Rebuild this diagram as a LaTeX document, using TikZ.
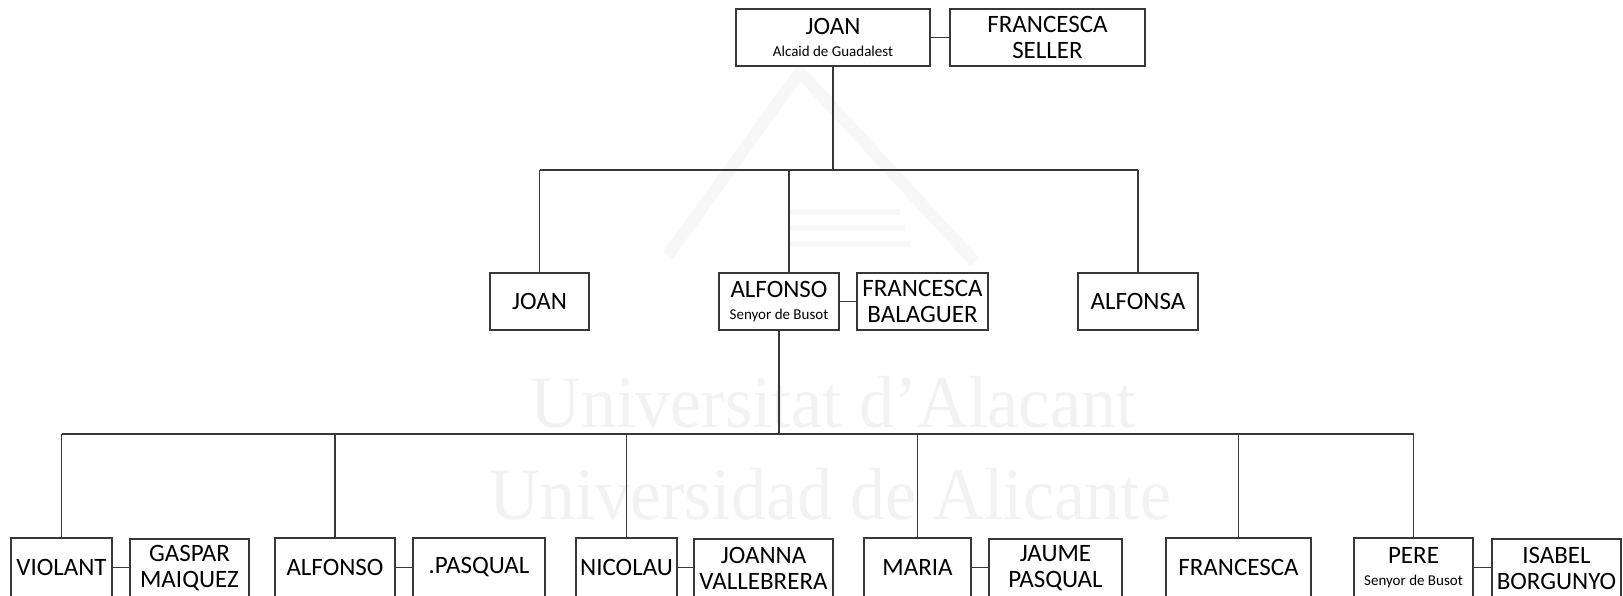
\documentclass[tikz,border=0pt]{standalone}
\usepackage{fontspec}
\setmainfont{Carlito}
\newfontfamily\wmfont{Liberation Serif}
\begin{document}
\begin{tikzpicture}[x=1pt,y=-1pt,
  box/.style={draw=black!78, line width=1.2pt, fill=white, inner sep=0pt, align=center,
    font=\fontsize{25}{26}\selectfont, text=black},
  link/.style={draw=black!78, line width=1.2pt},
  wm/.style={text=black!5, font=\wmfont\fontsize{74}{80}\selectfont, inner sep=0pt, xscale=0.947},
  logo/.style={draw=black!3, line cap=butt}]
\newcommand{\subt}[1]{{\fontsize{15}{17}\selectfont #1}}
\useasboundingbox (0,0) rectangle (1623,595);
\clip (0,0) rectangle (1623,595);
% watermark
\draw[logo, line width=12pt] (668,255) -- (800,72) -- (975,262);
\draw[logo, line width=6pt] (790,212) -- (900,212) (790,228) -- (905,228) (790,244) -- (910,244);
\node[wm, anchor=base] (wm1) at (833,427) {Universitat d’Alacant};
\node[wm, anchor=base] (wm2) at (830.5,519) {Universidad de Alicante};
% row 1
\node[box, minimum width=194pt, minimum height=57pt] (joanA) at (833,37.5) {JOAN\\[-4pt]\subt{Alcaid de Guadalest}};
\node[box, minimum width=195pt, minimum height=57pt] (selle) at (1047.5,37.5) {FRANCESCA\\SELLER};
% row 2
\node[box, minimum width=99pt, minimum height=57pt] (joanB) at (539.5,301.5) {JOAN};
\node[box, minimum width=120pt, minimum height=57pt] (alfonsoA) at (779,301.5) {ALFONSO\\[-4pt]\subt{Senyor de Busot}};
\node[box, minimum width=131pt, minimum height=57pt] (balag) at (922.5,301.5) {FRANCESCA\\BALAGUER};
\node[box, minimum width=120pt, minimum height=57pt] (alfonsa) at (1138,301.5) {ALFONSA};
% row 3
\node[box, minimum width=101pt, minimum height=59pt] (violant) at (61.5,567.5) {VIOLANT};
\node[box, minimum width=119pt, minimum height=59pt] (gaspar) at (189.5,568.5) {GASPAR\\MAIQUEZ};
\node[box, minimum width=120pt, minimum height=59pt] (alfonsoB) at (335,567.5) {ALFONSO};
\node[box, minimum width=132pt, minimum height=59pt] (pasqual) at (479,567.5) {.PASQUAL};
\node[box, minimum width=101pt, minimum height=59pt] (nicolau) at (626.5,567.5) {NICOLAU};
\node[box, minimum width=139pt, minimum height=59pt] (joanna) at (763.5,568.5) {JOANNA\\VALLEBRERA};
\node[box, minimum width=107pt, minimum height=59pt] (maria) at (917.5,567.5) {MARIA};
\node[box, minimum width=133pt, minimum height=59pt] (jaume) at (1055.5,568.5) {JAUME\\PASQUAL};
\node[box, minimum width=145pt, minimum height=59pt] (francesca) at (1238.5,567.5) {FRANCESCA};
\node[box, minimum width=119pt, minimum height=59pt] (pere) at (1413.5,567.5) {PERE\\[-4pt]\subt{Senyor de Busot}};
\node[box, minimum width=129pt, minimum height=59pt] (isabel) at (1556.5,568.5) {ISABEL\\BORGUNYO};
% bus coordinates
\coordinate (bus1) at (0,170);
\coordinate (bus2) at (0,434);
% marriages
\draw[link] (joanA.east) -- (joanA.east -| selle.west);
\draw[link] (alfonsoA.east) -- (alfonsoA.east -| balag.west);
\draw[link] (violant.east) -- (violant.east -| gaspar.west);
\draw[link] (alfonsoB.east) -- (alfonsoB.east -| pasqual.west);
\draw[link] (nicolau.east) -- (nicolau.east -| joanna.west);
\draw[link] (maria.east) -- (maria.east -| jaume.west);
\draw[link] (pere.east) -- (pere.east -| isabel.west);
% generation 1 -> 2
\draw[link] (joanA.south) -- (joanA.south |- bus1);
\draw[link] (joanB.north |- bus1) -- (alfonsa.north |- bus1);
\draw[link] (joanB.north |- bus1) -- (joanB.north);
\draw[link] ([xshift=10pt]alfonsoA.north |- bus1) -- ([xshift=10pt]alfonsoA.north);
\draw[link] (alfonsa.north |- bus1) -- (alfonsa.north);
% generation 2 -> 3
\draw[link] (alfonsoA.south) -- (alfonsoA.south |- bus2);
\draw[link] (violant.north |- bus2) -- (pere.north |- bus2);
\foreach \c in {violant,alfonsoB,nicolau,maria,francesca,pere}
  \draw[link] (\c.north |- bus2) -- (\c.north);
\end{tikzpicture}
\end{document}
